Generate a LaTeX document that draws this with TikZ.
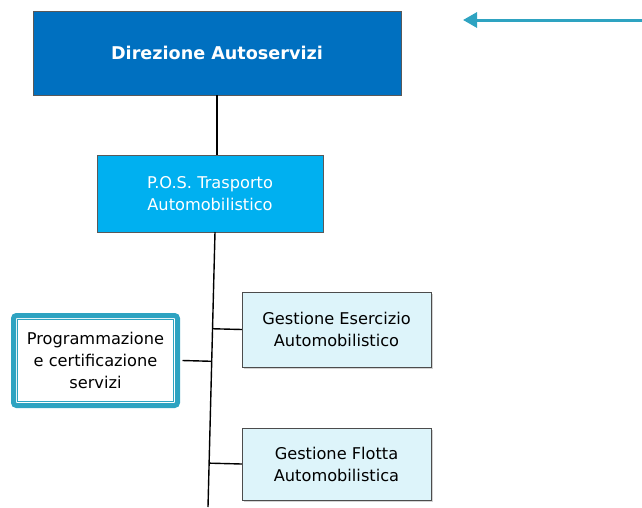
\documentclass[tikz,border=0pt]{standalone}
\usepackage{fontspec}
\setmainfont{DejaVu Sans}
\usetikzlibrary{calc,shadows,arrows.meta}
\definecolor{dirblue}{HTML}{0070C0}
\definecolor{posblue}{HTML}{00B0F0}
\definecolor{paleblue}{HTML}{DDF4FA}
\definecolor{framecol}{HTML}{2EA3C1}

\begin{document}
\begin{tikzpicture}[
    x=1pt, y=-1pt,
    font=\fontsize{16.2}{22}\selectfont,
    topbox/.style={draw=gray!70!black, fill=dirblue, text=white, align=center, inner sep=0pt},
    unitbox/.style={draw=gray!60!black, fill=paleblue, align=center, inner sep=0pt,
      drop shadow={shadow xshift=2pt, shadow yshift=-2pt, opacity=0.35}},
    staffbox/.style={draw=framecol, line width=5pt, rounded corners=3pt, fill=white,
      align=center, inner sep=0pt},
    link/.style={line width=1.4pt, black}
  ]
  \useasboundingbox (0,0) rectangle (642,507);

  % vertici
  \node[topbox, minimum width=368pt, minimum height=84pt, font=\fontsize{17.6}{22}\selectfont\bfseries]
    (dir) at (217,53) {Direzione Autoservizi};
  \node[topbox, fill=posblue, minimum width=226pt, minimum height=77pt]
    (pos) at (210,193.5) {P.O.S. Trasporto\\Automobilistico};

  % uffici
  \node[unitbox, minimum width=189pt, minimum height=75pt]
    (eser) at (336.5,329.5) {Gestione Esercizio\\Automobilistico};
  \node[unitbox, minimum width=189pt, minimum height=72pt]
    (flotta) at (336.5,464) {Gestione Flotta\\Automobilistica};

  % staff
  \node[staffbox, minimum width=164pt, minimum height=90pt]
    (prog) at (95.5,360.5) {Programmazione\\e certificazione\\servizi};
  \draw[framecol, line width=1.3pt]
    ([xshift=6.5pt,yshift=-6.5pt]prog.north west) rectangle ([xshift=-6.5pt,yshift=6.5pt]prog.south east);

  % collegamenti
  \coordinate (trunktop) at (215,232);
  \coordinate (trunkend) at (208,507);
  \draw[link] (dir.south) -- (dir.south |- pos.north);
  \draw[link] (trunktop) -- (trunkend);
  \draw[link] (eser.west) -- ($(trunktop)!(eser.west)!(trunkend)$);
  \draw[link] (flotta.west) -- ($(trunktop)!(flotta.west)!(trunkend)$);
  \draw[link] (prog.east) ++(2.5pt,0) -- ($(trunktop)!(prog.east)!(trunkend)$);

  % freccia
  \coordinate (arrtail) at (642,20);
  \coordinate (arrhead) at (463,20);
  \draw[framecol, line width=3pt, -{Triangle[length=14pt, width=15pt]}] (arrtail) -- (arrhead);
\end{tikzpicture}
\end{document}
